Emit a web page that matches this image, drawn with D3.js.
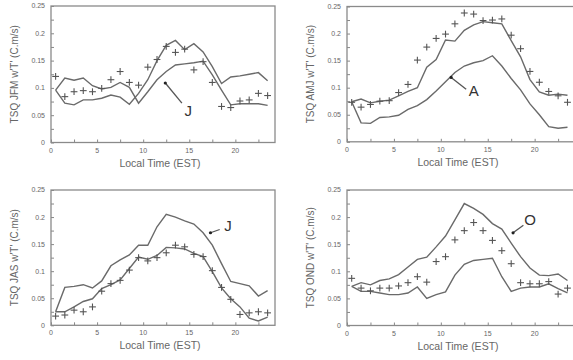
<!DOCTYPE html>
<html>
<head>
<meta charset="utf-8">
<script src="https://cdn.jsdelivr.net/npm/d3@7"></script>
<style>
  body { margin: 0; background: #fff; }
  svg { display: block; font-family: "Liberation Sans", Arial, sans-serif; }
  .frame { fill: none; stroke: #8a8a8a; stroke-width: 1.3; }
  .line { fill: none; stroke: #6a6a6a; stroke-width: 1.4; }
  .cross { stroke: #555; stroke-width: 1.1; }
  .tick line { stroke: #888; }
  .ticklabel { fill: #666; font-size: 7px; }
  .label { fill: #666; font-size: 10px; }
  .xlabel { fill: #666; font-size: 10.5px; }
  .note { fill: #333; font-size: 15px; }
  .arrow { stroke: #555; stroke-width: 1.3; }
</style>
</head>
<body>
<svg width="573" height="360"></svg>
<script>
const hours = [0.5, 1.5, 2.5, 3.5, 4.5, 5.5, 6.5, 7.5, 8.5, 9.5, 10.5, 11.5,
               12.5, 13.5, 14.5, 15.5, 16.5, 17.5, 18.5, 19.5, 20.5, 21.5, 22.5, 23.5]

const xTicks = [0, 5, 10, 15, 20],
      yTicks = [0, 0.05, 0.1, 0.15, 0.2, 0.25]

// JFM
const jfmCross = [0.121, 0.084, 0.093, 0.095, 0.093, 0.099, 0.115, 0.130, 0.110, 0.105, 0.138, 0.152,
                  0.176, 0.165, 0.171, 0.133, 0.148, 0.110, 0.066, 0.064, 0.076, 0.078, 0.090, 0.086]
const jfmPeak  = [0.096, 0.072, 0.069, 0.078, 0.078, 0.081, 0.087, 0.083, 0.070, 0.090, 0.115, 0.150,
                  0.178, 0.187, 0.170, 0.181, 0.166, 0.139, 0.108, 0.120, 0.122, 0.125, 0.128, 0.113]
const jfmOther = [0.096, 0.118, 0.114, 0.118, 0.104, 0.098, 0.101, 0.110, 0.101, 0.072, 0.093, 0.115,
                  0.130, 0.142, 0.144, 0.146, 0.149, 0.124, 0.096, 0.069, 0.071, 0.071, 0.071, 0.068]

// AMJ
const amjCross = [0.073, 0.064, 0.069, 0.075, 0.076, 0.091, 0.106, 0.151, 0.175, 0.191, 0.199, 0.218,
                  0.238, 0.236, 0.224, 0.225, 0.227, 0.197, 0.172, 0.130, 0.110, 0.093, 0.085, 0.073]
const amjUpper = [0.074, 0.079, 0.072, 0.075, 0.077, 0.085, 0.093, 0.100, 0.138, 0.152, 0.188, 0.186,
                  0.206, 0.216, 0.222, 0.220, 0.218, 0.187, 0.157, 0.115, 0.092, 0.086, 0.088, 0.086]
const amjLower = [0.074, 0.035, 0.034, 0.045, 0.046, 0.049, 0.060, 0.067, 0.078, 0.094, 0.111, 0.128,
                  0.140, 0.146, 0.150, 0.159, 0.140, 0.117, 0.096, 0.070, 0.050, 0.028, 0.025, 0.027]

// JAS
const jasCross = [0.017, 0.019, 0.028, 0.025, 0.034, 0.063, 0.077, 0.083, 0.102, 0.125, 0.119, 0.125,
                  0.134, 0.148, 0.145, 0.131, 0.127, 0.101, 0.070, 0.048, 0.020, 0.023, 0.025, 0.023]
const jasUpper = [0.025, 0.070, 0.072, 0.075, 0.069, 0.082, 0.110, 0.121, 0.130, 0.148, 0.148, 0.182,
                  0.205, 0.200, 0.193, 0.187, 0.171, 0.148, 0.114, 0.081, 0.077, 0.073, 0.054, 0.064]
const jasLower = [0.025, 0.025, 0.034, 0.044, 0.049, 0.068, 0.075, 0.084, 0.105, 0.126, 0.122, 0.129,
                  0.144, 0.143, 0.141, 0.133, 0.127, 0.099, 0.069, 0.049, 0.034, 0.013, 0.008, 0.015]

// OND
const ondCross = [0.087, 0.069, 0.064, 0.069, 0.069, 0.073, 0.079, 0.090, 0.080, 0.118, 0.127, 0.158,
                  0.175, 0.190, 0.175, 0.157, 0.138, 0.114, 0.079, 0.077, 0.077, 0.081, 0.058, 0.069]
const ondUpper = [0.072, 0.079, 0.075, 0.083, 0.086, 0.094, 0.108, 0.122, 0.126, 0.145, 0.165, 0.195,
                  0.225, 0.216, 0.205, 0.188, 0.178, 0.152, 0.127, 0.106, 0.093, 0.092, 0.095, 0.083]
const ondLower = [0.072, 0.063, 0.063, 0.060, 0.057, 0.057, 0.060, 0.071, 0.050, 0.057, 0.062, 0.093,
                  0.113, 0.120, 0.122, 0.124, 0.090, 0.063, 0.069, 0.071, 0.071, 0.077, 0.068, 0.060]

const panels = [
  {name: "JFM", left: 51, top: 6, width: 224, height: 136.5, cross: jfmCross, lines: [jfmPeak, jfmOther],
   note: {text: "J", dot: [12.4, 0.109], end: [14.2, 0.072], at: [14.9, 0.059]}},
  {name: "AMJ", left: 347, top: 6.5, width: 228, height: 135.3, cross: amjCross, lines: [amjUpper, amjLower],
   note: {text: "A", dot: [11.1, 0.119], end: [12.7, 0.097], at: [13.5, 0.094]}},
  {name: "JAS", left: 51, top: 190, width: 224, height: 135.3, cross: jasCross, lines: [jasUpper, jasLower],
   note: {text: "J", dot: [17.3, 0.171], end: [18.3, 0.177], at: [19.2, 0.184]}},
  {name: "OND", left: 347, top: 190, width: 228, height: 135.5, cross: ondCross, lines: [ondUpper, ondLower],
   note: {text: "O", dot: [17.7, 0.171], end: [18.8, 0.185], at: [19.5, 0.196]}}
]

const svg = d3.select("svg")

panels.forEach(function (p) {
  const x = d3.scaleLinear().domain([0, 24.3]).range([0, p.width]),
        y = d3.scaleLinear().domain([0, 0.25]).range([p.height, 0])

  const g = svg.append("g").attr("transform", "translate(" + p.left + "," + p.top + ")")

  const line = d3.line()
    .x((d, i) => x(hours[i]))
    .y(d => y(d))

  // inward minor + major ticks
  g.append("g")
    .attr("class", "tick")
    .call(d3.axisBottom(x).tickValues(d3.range(0, 24.3, 2.5)).tickSize(-3).tickFormat(""))
    .attr("transform", "translate(0," + p.height + ")")
    .select(".domain").remove()

  g.append("g")
    .attr("class", "tick")
    .call(d3.axisLeft(y).tickValues(d3.range(0, 0.2501, 0.025)).tickSize(-3).tickFormat(""))
    .select(".domain").remove()

  g.selectAll(".xl")
    .data(xTicks)
    .enter().append("text")
      .attr("class", "ticklabel")
      .attr("x", d => x(d))
      .attr("y", p.height + 10)
      .attr("text-anchor", "middle")
      .text(d => d)

  g.selectAll(".yl")
    .data(yTicks)
    .enter().append("text")
      .attr("class", "ticklabel")
      .attr("x", -6)
      .attr("y", d => y(d))
      .attr("dy", "0.35em")
      .attr("text-anchor", "end")
      .text(d => d)

  g.append("rect")
    .attr("class", "frame")
    .attr("width", p.width)
    .attr("height", p.height)

  g.selectAll(".line")
    .data(p.lines)
    .enter().append("path")
      .attr("class", "line")
      .attr("d", d => line(d))

  const s = 3.4
  const crosses = g.selectAll(".cross")
    .data(p.cross)
    .enter().append("g")
      .attr("transform", (d, i) => "translate(" + x(hours[i]) + "," + y(d) + ")")
  crosses.append("line").attr("class", "cross").attr("x1", -s).attr("x2", s)
  crosses.append("line").attr("class", "cross").attr("y1", -s).attr("y2", s)

  // annotation arrow
  const n = p.note
  g.append("line")
    .attr("class", "arrow")
    .attr("x1", x(n.dot[0])).attr("y1", y(n.dot[1]))
    .attr("x2", x(n.end[0])).attr("y2", y(n.end[1]))
  g.append("circle")
    .attr("cx", x(n.dot[0])).attr("cy", y(n.dot[1]))
    .attr("r", 1.6)
    .attr("fill", "#222")
  g.append("text")
    .attr("class", "note")
    .attr("x", x(n.at[0]))
    .attr("y", y(n.at[1]))
    .attr("dy", "0.36em")
    .attr("text-anchor", "middle")
    .text(n.text)

  g.append("text")
    .attr("class", "xlabel")
    .attr("x", p.width / 2 - 3)
    .attr("y", p.height + 24)
    .attr("text-anchor", "middle")
    .text("Local Time (EST)")

  g.append("text")
    .attr("class", "label")
    .attr("transform", "translate(" + (-33) + "," + (p.height / 2) + ") rotate(-90)")
    .attr("text-anchor", "middle")
    .text("TSQ " + p.name + "  w'T'  (C.m/s)")
})
</script>
</body>
</html>
